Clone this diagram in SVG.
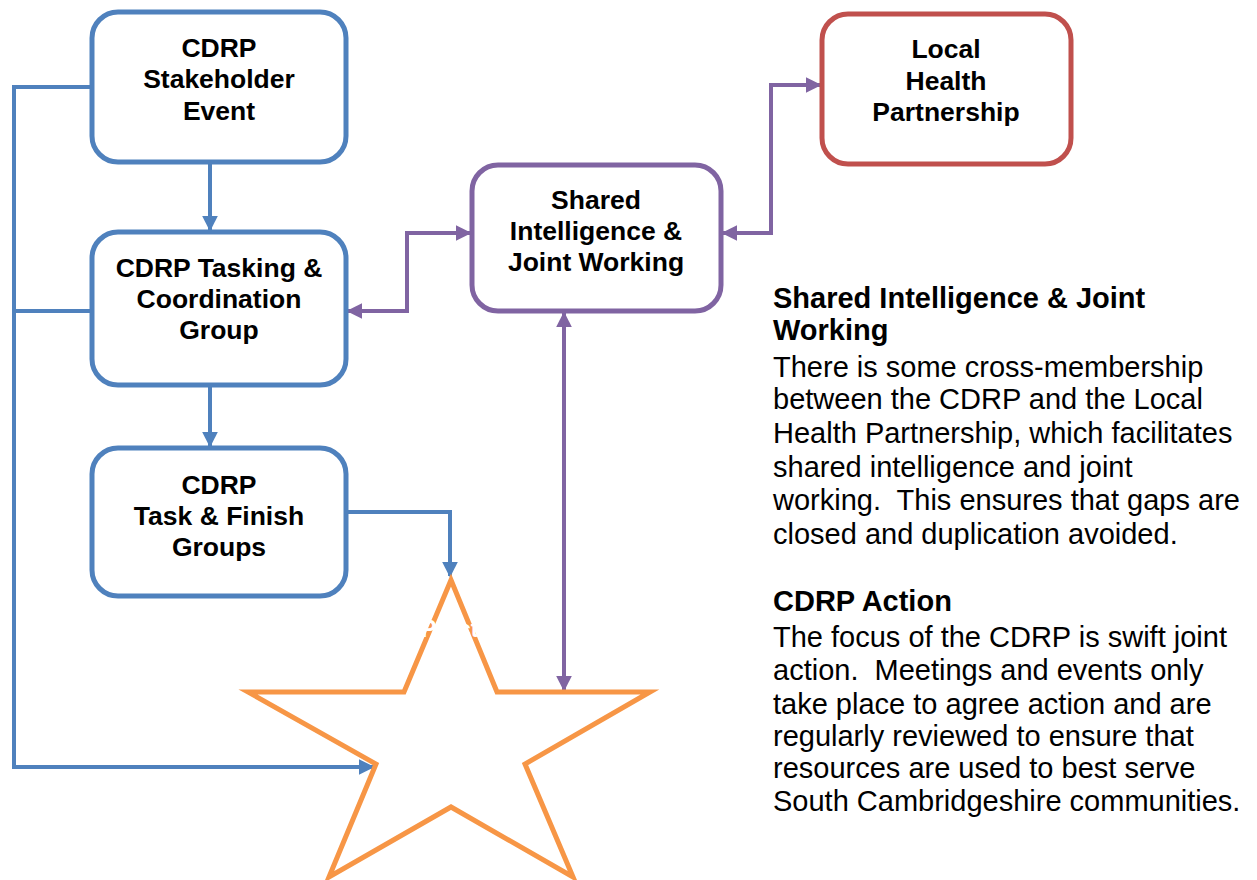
<svg xmlns="http://www.w3.org/2000/svg" width="1257" height="880" viewBox="0 0 1257 880">
<defs>
<style>
.box{fill:#fff;stroke-width:5}
.blue{stroke:#4F81BD}
.purple{stroke:#8064A2}
.red{stroke:#C0504D}
.lbl{font-family:"Liberation Sans",Arial,sans-serif;font-weight:bold;font-size:26.5px;fill:#000;text-anchor:middle}
.c{fill:none;stroke-width:4}
.body{font-family:"Liberation Sans",Arial,sans-serif;font-size:29px;fill:#000}
.head{font-family:"Liberation Sans",Arial,sans-serif;font-size:29px;font-weight:bold;fill:#000}
</style>
<marker id="ab" viewBox="0 0 10 10" refX="9" refY="5" markerWidth="4" markerHeight="4" orient="auto-start-reverse" markerUnits="strokeWidth"><path d="M0,0L10,5L0,10z" fill="#4F81BD"/></marker>
<marker id="ap" viewBox="0 0 10 10" refX="9" refY="5" markerWidth="4" markerHeight="4" orient="auto-start-reverse" markerUnits="strokeWidth"><path d="M0,0L10,5L0,10z" fill="#8064A2"/></marker>
</defs>
<rect width="1257" height="880" fill="#fff"/>
<g id="connectors">
<path class="c blue" d="M210,162V230" marker-end="url(#ab)"/>
<path class="c blue" d="M210,385V446" marker-end="url(#ab)"/>
<path class="c blue" d="M92,87H14V767H373" marker-end="url(#ab)"/>
<path class="c blue" d="M92,311H14"/>
<path class="c blue" d="M346,512H450V576" marker-end="url(#ab)"/>
<path class="c purple" d="M348,311H407V233H470" marker-start="url(#ap)" marker-end="url(#ap)"/>
<path class="c purple" d="M723,233H771V85H820" marker-start="url(#ap)" marker-end="url(#ap)"/>
<path class="c purple" d="M564,313V690" marker-start="url(#ap)" marker-end="url(#ap)"/>
</g>
<g id="star">
<polygon points="451,580 497,692 650,692 525,764 573,877 451,807 329,877 376,764 248,692 404,692" fill="none" stroke="#F79646" stroke-width="5"/>
<text x="442" y="637" class="lbl" style="fill:#fff;font-size:23px">CDRP Action</text>
</g>
<g id="stakeholder">
<rect class="box blue" x="92" y="12" width="254" height="150" rx="26"/>
<text class="lbl" x="219" y="57">CDRP</text>
<text class="lbl" x="219" y="88">Stakeholder</text>
<text class="lbl" x="219" y="120">Event</text>
</g>
<g id="tasking">
<rect class="box blue" x="92" y="232" width="254" height="153" rx="26"/>
<text class="lbl" x="219" y="277">CDRP Tasking &amp;</text>
<text class="lbl" x="219" y="308">Coordination</text>
<text class="lbl" x="219" y="339">Group</text>
</g>
<g id="taskfinish">
<rect class="box blue" x="92" y="448" width="254" height="148" rx="26"/>
<text class="lbl" x="219" y="494">CDRP</text>
<text class="lbl" x="219" y="525">Task &amp; Finish</text>
<text class="lbl" x="219" y="556">Groups</text>
</g>
<g id="shared">
<rect class="box purple" x="472" y="165" width="249" height="146" rx="26"/>
<text class="lbl" x="596" y="209">Shared</text>
<text class="lbl" x="596" y="240">Intelligence &amp;</text>
<text class="lbl" x="596" y="271">Joint Working</text>
</g>
<g id="health">
<rect class="box red" x="822" y="14" width="249" height="150" rx="26"/>
<text class="lbl" x="946" y="58">Local</text>
<text class="lbl" x="946" y="90">Health</text>
<text class="lbl" x="946" y="121">Partnership</text>
</g>
<g id="notes">
<text class="head" x="773" y="308">Shared Intelligence &amp; Joint</text>
<text class="head" x="773" y="340">Working</text>
<text class="body" x="773" y="377">There is some cross-membership</text>
<text class="body" x="773" y="409">between the CDRP and the Local</text>
<text class="body" x="773" y="443">Health Partnership, which facilitates</text>
<text class="body" x="773" y="477">shared intelligence and joint</text>
<text class="body" x="773" y="510" xml:space="preserve">working.  This ensures that gaps are</text>
<text class="body" x="773" y="544">closed and duplication avoided.</text>
<text class="head" x="773" y="611">CDRP Action</text>
<text class="body" x="773" y="647">The focus of the CDRP is swift joint</text>
<text class="body" x="773" y="680" xml:space="preserve">action.  Meetings and events only</text>
<text class="body" x="773" y="714">take place to agree action and are</text>
<text class="body" x="773" y="746">regularly reviewed to ensure that</text>
<text class="body" x="773" y="778">resources are used to best serve</text>
<text class="body" x="773" y="811">South Cambridgeshire communities.</text>
</g>
</svg>
